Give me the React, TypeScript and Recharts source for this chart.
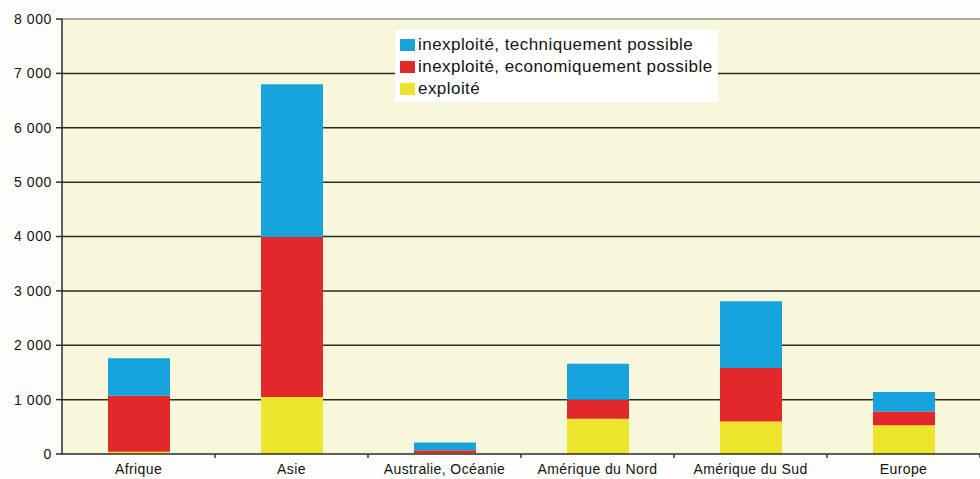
import { BarChart, Bar, XAxis, YAxis, CartesianGrid, ReferenceLine } from "recharts";

export const regions = [
  "Afrique",
  "Asie",
  "Australie, Océanie",
  "Amérique du Nord",
  "Amérique du Sud",
  "Europe",
];

// exploité
export const exploite = [40, 1050, 20, 650, 600, 530];
// inexploité, economiquement possible
export const economique = [1030, 2940, 50, 350, 980, 250];
// inexploité, techniquement possible
export const technique = [690, 2810, 140, 660, 1230, 360];

export const yTicks = [0, 1000, 2000, 3000, 4000, 5000, 6000, 7000, 8000];

const series = [
  { key: "technique", label: "inexploité, techniquement possible", color: "#17a3dc" },
  { key: "economique", label: "inexploité, economiquement possible", color: "#e3282b" },
  { key: "exploite", label: "exploité", color: "#ede52b" },
];

const data = regions.map((name, i) => ({
  name,
  exploite: exploite[i],
  economique: economique[i],
  technique: technique[i],
}));

const font = "'Liberation Sans', Arial, sans-serif";

const formatThousands = (v: number) =>
  v >= 1000 ? `${Math.floor(v / 1000)} ${String(v % 1000).padStart(3, "0")}` : String(v);

function CategoryTick(props: any) {
  const { x, y, payload } = props;
  const half = payload?.offset ?? 76.5;
  return (
    <g>
      <line x1={x + half} y1={y - 8} x2={x + half} y2={y - 4} stroke="#333" strokeWidth={1.5} />
      <text
        x={x}
        y={y + 12}
        textAnchor="middle"
        fontFamily={font}
        fontSize={14}
        letterSpacing={0.4}
        fill="#141414"
      >
        {payload.value}
      </text>
    </g>
  );
}

// legend box sits over the plot, outside the chart's layout
function LegendBox() {
  return (
    <div
      style={{
        position: "absolute",
        left: 395,
        top: 30,
        background: "#ffffff",
        padding: "4px 4px 2px 5px",
        fontFamily: font,
        fontSize: 17,
        letterSpacing: 0.45,
        color: "#141414",
        lineHeight: "22px",
        width: 314,
        whiteSpace: "nowrap",
      }}
    >
      {series.map((s) => (
        <div key={s.key} style={{ display: "flex", alignItems: "center" }}>
          <span
            style={{
              display: "inline-block",
              width: 15,
              height: 12,
              background: s.color,
              marginRight: 3,
            }}
          />
          {s.label}
        </div>
      ))}
    </div>
  );
}

export default function App() {
  return (
    <div style={{ position: "absolute", left: 0, top: 0, background: "#fdfdfb" }}>
      <BarChart
        width={980}
        height={479}
        data={data}
        margin={{ top: 19, right: 0, bottom: 0, left: 0 }}
        barSize={62}
      >
        <CartesianGrid
          vertical={false}
          horizontalValues={yTicks.filter((t) => t > 0 && t < 8000)}
          stroke="#2b2b2b"
          strokeWidth={1.5}
          fill="#f7f7dc"
          fillOpacity={1}
        />
        <ReferenceLine y={8000} stroke="#a8a8a0" strokeWidth={2} />
        <XAxis
          dataKey="name"
          height={25}
          tickLine={false}
          axisLine={{ stroke: "#2b2b2b", strokeWidth: 1.5 }}
          tick={<CategoryTick />}
          interval={0}
        />
        <YAxis
          width={62}
          domain={[0, 8000]}
          ticks={yTicks}
          tickFormatter={formatThousands}
          tickSize={6}
          tickMargin={4}
          axisLine={{ stroke: "#2b2b2b", strokeWidth: 1.5 }}
          tickLine={{ stroke: "#2b2b2b", strokeWidth: 1.5 }}
          tick={{ fontFamily: font, fontSize: 14, fill: "#141414", letterSpacing: 0.6 }}
        />
        <Bar dataKey="exploite" stackId="a" fill="#ede52b" isAnimationActive={false} />
        <Bar dataKey="economique" stackId="a" fill="#e3282b" isAnimationActive={false} />
        <Bar dataKey="technique" stackId="a" fill="#17a3dc" isAnimationActive={false} />
      </BarChart>
      <LegendBox />
    </div>
  );
}
